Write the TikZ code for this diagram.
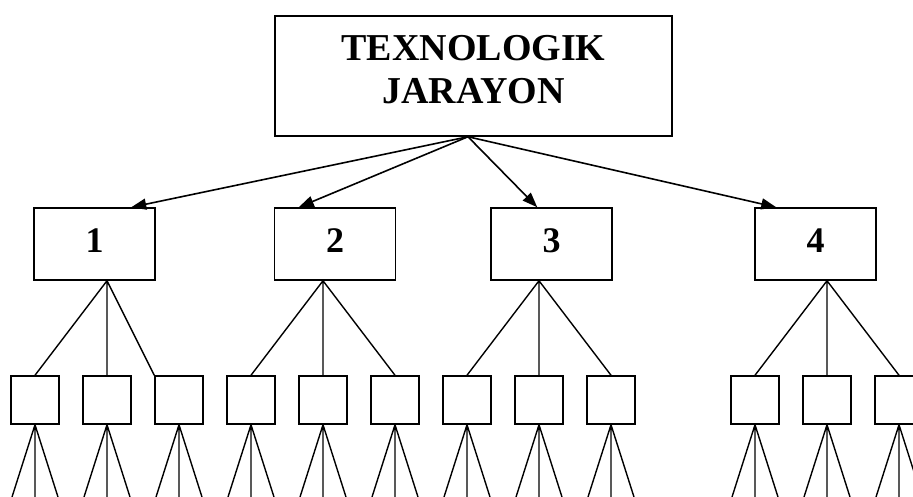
\documentclass[tikz,border=0pt]{standalone}
\usepackage{fontspec}
\setmainfont{Liberation Serif}
\usetikzlibrary{arrows.meta}

\begin{document}
\begin{tikzpicture}[x=1pt,y=-1pt,line width=1.5pt,
  every node/.style={font=\bfseries},
  topbox/.style={draw,minimum width=397pt,minimum height=120pt,align=center,font=\fontsize{38}{43}\selectfont\bfseries,text depth=12.5pt},
  stage/.style={draw,minimum width=121pt,minimum height=72pt,font=\fontsize{36}{40}\selectfont\bfseries,text depth=6pt},
  leaf/.style={draw,minimum width=48pt,minimum height=48pt,inner sep=0pt},
  arr/.style={-{Triangle[length=15pt,width=11pt]},line width=1.6pt},
  link/.style={line width=1.4pt}]
\path[use as bounding box] (0,0) rectangle (913,496);
\clip (0,0) rectangle (913,496);

\node[topbox] (tj) at (473.5,76) {TEXNOLOGIK\\JARAYON};
\node[stage] (l1) at (94.5,244) {1};
\node[stage] (l2) at (335,244) {2};
\node[stage] (l3) at (551.5,244) {3};
\node[stage] (l4) at (815.5,244) {4};

\draw[arr] ([xshift=-5.5pt]tj.south) -- ([xshift=98pt]l1.north west);
\draw[arr] ([xshift=-5.5pt]tj.south) -- ([xshift=25pt]l2.north west);
\draw[arr] ([xshift=-5.5pt]tj.south) -- ([xshift=47pt]l3.north west);
\draw[arr] ([xshift=-5.5pt]tj.south) -- ([xshift=22pt]l4.north west);

\foreach \n/\x in {11/35,12/107,13/179,21/251,22/323,23/395,31/467,32/539,33/611,41/755,42/827,43/899}
  \node[leaf] (m\n) at (\x,400) {};

% stages to sub-steps
\draw[link] (l1.south -| m12) -- (m11.north) (l1.south -| m12) -- (m12.north) (l1.south -| m12) -- (m13.north west);
\foreach \g in {2,3,4}
  \draw[link] (l\g.south -| m\g2) -- (m\g1.north) (l\g.south -| m\g2) -- (m\g2.north) (l\g.south -| m\g2) -- (m\g3.north);

\foreach \n in {11,12,13,21,22,23,31,32,33,41,42,43}
  \draw[link] (m\n.south) -- ++(-28,88) (m\n.south) -- ++(0,88) (m\n.south) -- ++(28,88);

\end{tikzpicture}
\end{document}
